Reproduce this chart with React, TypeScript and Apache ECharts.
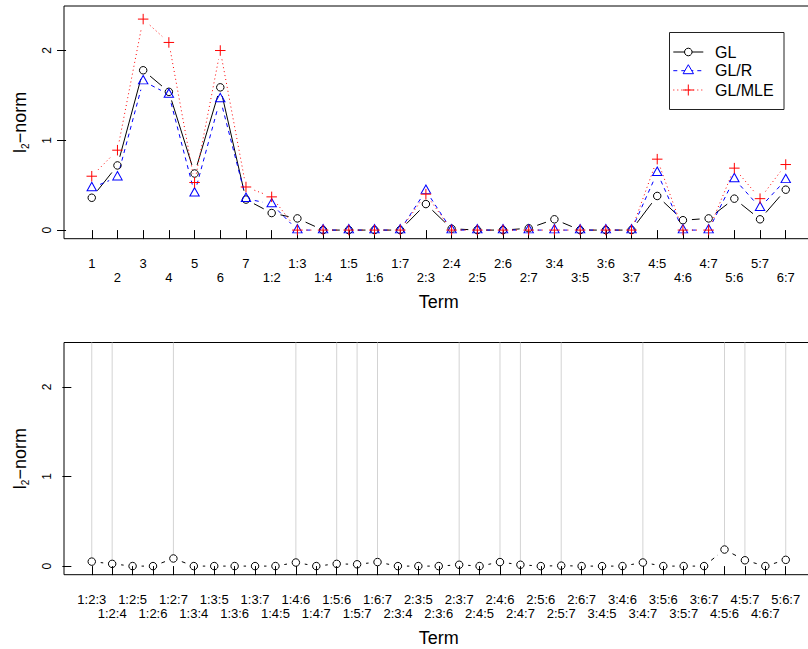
import React, { useEffect, useRef } from 'react';
import * as echarts from 'echarts';

// ---------------- data ----------------
const mainTerms = ['1', '2', '3', '4', '5', '6', '7', '1:2', '1:3', '1:4', '1:5', '1:6', '1:7', '2:3', '2:4', '2:5', '2:6', '2:7', '3:4', '3:5', '3:6', '3:7', '4:5', '4:6', '4:7', '5:6', '5:7', '6:7'];
const glValues = [0.36, 0.72, 1.78, 1.54, 0.63, 1.59, 0.34, 0.19, 0.13, 0, 0, 0, 0, 0.29, 0.015, 0, 0, 0.02, 0.12, 0, 0, 0, 0.38, 0.11, 0.13, 0.35, 0.12, 0.45];
const glrValues = [0.47, 0.59, 1.66, 1.51, 0.41, 1.46, 0.35, 0.29, 0, 0, 0, 0, 0, 0.44, 0, 0, 0, 0, 0, 0, 0, 0, 0.64, 0, 0, 0.57, 0.25, 0.56];
const glmleValues = [0.6, 0.89, 2.35, 2.09, 0.53, 2.0, 0.48, 0.37, 0, 0, 0, 0, 0, 0.4, 0, 0, 0, 0, 0, 0, 0, 0, 0.79, 0, 0, 0.69, 0.35, 0.73];

const tripleTerms = ['1:2:3', '1:2:4', '1:2:5', '1:2:6', '1:2:7', '1:3:4', '1:3:5', '1:3:6', '1:3:7', '1:4:5', '1:4:6', '1:4:7', '1:5:6', '1:5:7', '1:6:7', '2:3:4', '2:3:5', '2:3:6', '2:3:7', '2:4:5', '2:4:6', '2:4:7', '2:5:6', '2:5:7', '2:6:7', '3:4:5', '3:4:6', '3:4:7', '3:5:6', '3:5:7', '3:6:7', '4:5:6', '4:5:7', '4:6:7', '5:6:7'];
const tripleValues = [0.05, 0.025, 0, 0, 0.085, 0, 0, 0, 0, 0, 0.04, 0, 0.025, 0.02, 0.045, 0, 0, 0, 0.015, 0, 0.045, 0.015, 0, 0.005, 0, 0, 0, 0.04, 0, 0, 0, 0.185, 0.065, 0, 0.07];
const selectedTriples = ['1:2:3', '1:2:4', '1:2:7', '1:4:6', '1:5:6', '1:5:7', '1:6:7', '2:3:7', '2:4:6', '2:4:7', '2:5:7', '3:4:7', '4:5:6', '4:5:7', '5:6:7'];

const yLimits = [0, 2.4];
const yTicks = [0, 1, 2];
const legendNames = ['GL', 'GL/R', 'GL/MLE'];

// ---------------- helpers ----------------
const FONT = '"Liberation Sans", Arial, Helvetica, sans-serif';
const GAP = 9;
const BLACK = '#000000';
const BLUE = '#0000ff';
const RED = '#ff0000';

const yExt = (yLimits[1] - yLimits[0]) * 0.04;
const positions = (n: number) => Array.from({ length: n }, (_, i) => i + 1);

function segmentData(values: number[]) {
  const out: number[][] = [];
  for (let i = 0; i < values.length - 1; i++) out.push([i + 1, values[i], i + 2, values[i + 1]]);
  return out;
}

function segmentSeries(xi: number, yi: number, values: number[], color: string, dash: number[] | null) {
  return {
    type: 'custom',
    xAxisIndex: xi,
    yAxisIndex: yi,
    silent: true,
    data: segmentData(values),
    encode: { x: [0, 2], y: [1, 3] },
    renderItem: (_params: any, api: any) => {
      const a = api.coord([api.value(0), api.value(1)]);
      const b = api.coord([api.value(2), api.value(3)]);
      const dx = b[0] - a[0];
      const dy = b[1] - a[1];
      const d = Math.hypot(dx, dy);
      if (d <= 2 * GAP) return { type: 'group', children: [] };
      const f = GAP / d;
      return {
        type: 'line',
        shape: { x1: a[0] + dx * f, y1: a[1] + dy * f, x2: b[0] - dx * f, y2: b[1] - dy * f },
        style: { stroke: color, lineWidth: 1, lineDash: dash || undefined, fill: null },
      };
    },
  };
}

function markerSeries(xi: number, yi: number, values: number[], color: string, symbol: string, size: any, offset: number[]) {
  return {
    type: 'scatter',
    xAxisIndex: xi,
    yAxisIndex: yi,
    silent: true,
    symbol,
    symbolSize: size,
    symbolOffset: offset,
    data: values.map((v, i) => [i + 1, v]),
    itemStyle: { color: 'transparent', borderColor: color, borderWidth: 1, opacity: 1 },
  };
}

const PLUS = 'path://M0,5L10,5M5,0L5,10';

// row 0: odd positions (first row, with ticks and name); row 1: even positions (second row)
function xAxisFor(grid: number, terms: string[], row: number) {
  const n = terms.length;
  const ext = (n - 1) * 0.04;
  const ticks = positions(n);
  const labelPos = ticks.filter((p) => (p - 1) % 2 === row);
  return {
    gridIndex: grid,
    type: 'value',
    position: 'bottom',
    min: 1 - ext,
    max: n + ext,
    splitLine: { show: false },
    axisLine: { show: false },
    axisTick: { show: row === 0, inside: false, length: 9, customValues: ticks, lineStyle: { color: BLACK, width: 1 } },
    axisLabel: {
      show: true,
      customValues: labelPos,
      showMinLabel: true,
      showMaxLabel: true,
      hideOverlap: false,
      formatter: (v: number) => terms[Math.round(v) - 1] ?? '',
      fontSize: 13,
      lineHeight: 14.6,
      margin: 17 + row * 14.6,
      color: BLACK,
      fontFamily: FONT,
    },
    name: row === 0 ? 'Term' : '',
    nameLocation: 'middle',
    nameGap: 54,
    nameTextStyle: { fontSize: 18, color: BLACK, fontFamily: FONT },
  };
}

function yAxisFor(grid: number) {
  return {
    gridIndex: grid,
    type: 'value',
    min: yLimits[0] - yExt,
    max: yLimits[1] + yExt,
    splitLine: { show: false },
    axisLine: { show: false },
    axisTick: { show: true, inside: false, length: 9, customValues: yTicks, lineStyle: { color: BLACK, width: 1 } },
    axisLabel: { show: true, customValues: yTicks, rotate: 90, margin: 11, fontSize: 12, color: BLACK, fontFamily: FONT },
    name: '{n|l}{s|2}{n|\u2212norm}',
    nameLocation: 'middle',
    nameGap: 34,
    nameTextStyle: {
      color: BLACK,
      fontFamily: FONT,
      fontSize: 18,
      rich: {
        n: { fontSize: 18, lineHeight: 20, fontFamily: FONT, color: BLACK },
        s: { fontSize: 10, lineHeight: 12.4, verticalAlign: 'bottom', fontFamily: FONT, color: BLACK },
      },
    },
  };
}

function legendGraphic() {
  const x0 = 673.3;
  const x1 = 703.3;
  const xm = 688.3;
  const rows = [52, 70.7, 90];
  const tx = 715;
  const children: any[] = [
    { type: 'rect', shape: { x: 669.5, y: 32.5, width: 114.5, height: 77 }, style: { fill: '#fff', stroke: '#222', lineWidth: 1 } },
    { type: 'line', shape: { x1: x0, y1: rows[0], x2: x1, y2: rows[0] }, style: { stroke: BLACK, lineWidth: 1 } },
    { type: 'circle', shape: { cx: xm, cy: rows[0], r: 3.8 }, style: { fill: '#fff', stroke: BLACK, lineWidth: 1 } },
    { type: 'line', shape: { x1: x0, y1: rows[1], x2: x1, y2: rows[1] }, style: { stroke: BLUE, lineWidth: 1, lineDash: [4, 4] } },
    {
      type: 'polygon',
      shape: { points: [[xm, rows[1] - 6], [xm + 5.2, rows[1] + 3], [xm - 5.2, rows[1] + 3]] },
      style: { fill: '#fff', stroke: BLUE, lineWidth: 1 },
    },
    { type: 'line', shape: { x1: x0, y1: rows[2], x2: x1, y2: rows[2] }, style: { stroke: RED, lineWidth: 1, lineDash: [1, 3] } },
    { type: 'line', shape: { x1: xm - 5.5, y1: rows[2], x2: xm + 5.5, y2: rows[2] }, style: { stroke: RED, lineWidth: 1 } },
    { type: 'line', shape: { x1: xm, y1: rows[2] - 5.5, x2: xm, y2: rows[2] + 5.5 }, style: { stroke: RED, lineWidth: 1 } },
  ];
  legendNames.forEach((name, i) => {
    children.push({
      type: 'text',
      x: tx,
      y: rows[i],
      style: { text: name, fill: BLACK, font: `16px ${FONT}`, textVerticalAlign: 'middle', verticalAlign: 'middle', align: 'left' },
    });
  });
  return { type: 'group', children, z: 100 };
}

export default function App() {
  const ref = useRef<HTMLDivElement>(null);
  useEffect(() => {
    if (!ref.current) return;
    const chart = echarts.init(ref.current, null, { renderer: 'svg' });
    const option: any = {
      animation: false,
      backgroundColor: '#ffffff',
      grid: [
        { left: 64, top: 6, width: 749.5, height: 232.7, show: true, borderColor: BLACK, borderWidth: 1, backgroundColor: 'transparent', containLabel: false, outerBoundsMode: 'none' },
        { left: 64, top: 342.5, width: 749.5, height: 232.2, show: true, borderColor: BLACK, borderWidth: 1, backgroundColor: 'transparent', containLabel: false, outerBoundsMode: 'none' },
      ],
      xAxis: [
        xAxisFor(0, mainTerms, 0),
        xAxisFor(0, mainTerms, 1),
        xAxisFor(1, tripleTerms, 0),
        xAxisFor(1, tripleTerms, 1),
      ],
      yAxis: [yAxisFor(0), yAxisFor(1)],
      series: [
        // bottom panel: grey guide lines for selected triples
        {
          type: 'custom',
          xAxisIndex: 2,
          yAxisIndex: 1,
          silent: true,
          data: selectedTriples.map((t) => {
            const i = tripleTerms.indexOf(t);
            return [i + 1, tripleValues[i]];
          }),
          encode: { x: 0, y: 1 },
          renderItem: (params: any, api: any) => {
            const p = api.coord([api.value(0), api.value(1)]);
            const top = params.coordSys.y;
            return {
              type: 'line',
              shape: { x1: p[0], y1: top, x2: p[0], y2: p[1] - 4.5 },
              style: { stroke: '#d3d3d3', lineWidth: 1 },
            };
          },
        },
        segmentSeries(0, 0, glValues, BLACK, null),
        markerSeries(0, 0, glValues, BLACK, 'circle', 7.5, [0, 0]),
        segmentSeries(0, 0, glrValues, BLUE, [4, 4]),
        markerSeries(0, 0, glrValues, BLUE, 'triangle', [9.4, 8.4], [0, -1.4]),
        segmentSeries(0, 0, glmleValues, RED, [1, 3]),
        markerSeries(0, 0, glmleValues, RED, PLUS, 10.5, [0, 0]),
        segmentSeries(2, 1, tripleValues, BLACK, [4, 4]),
        markerSeries(2, 1, tripleValues, BLACK, 'circle', 7.5, [0, 0]),
      ],
      graphic: [legendGraphic()],
    };
    chart.setOption(option);
    return () => chart.dispose();
  }, []);
  return (
    <div
      ref={ref}
      style={{ position: 'fixed', left: 0, top: 0, width: 808, height: 649, background: '#ffffff' }}
    />
  );
}
